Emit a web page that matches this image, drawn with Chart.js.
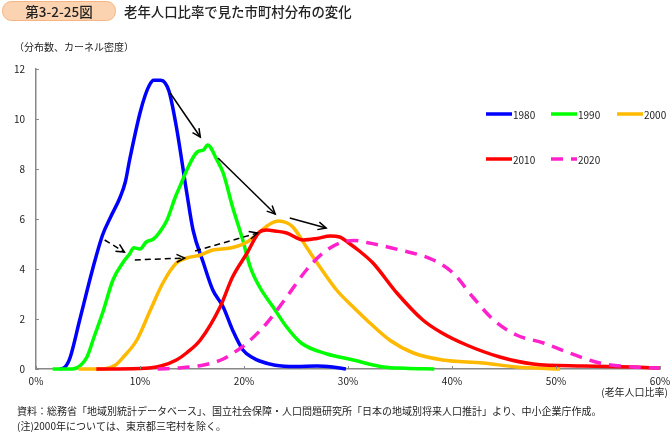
<!DOCTYPE html>
<html>
<head>
<meta charset="utf-8">
<script src="https://cdn.jsdelivr.net/npm/chart.js@4"></script>
<style>
  body { margin: 0; background: #fff; }
  #wrap { position: relative; width: 670px; height: 435px; }
</style>
</head>
<body>
<div id="wrap"><canvas id="chart" width="670" height="435"></canvas></div>
<script>
// 老年人口比率 (%) と カーネル密度
const years = ['1980', '1990', '2000', '2010', '2020'];
const colors = ['#0000ff', '#00ff00', '#ffb900', '#ff0000', '#ff22cc'];

const x1980 = [2.3, 2.8, 3.3, 4.2, 5.5, 6.4, 7.2, 8.1, 8.6, 9.0, 10.0, 10.5, 10.9, 11.3, 12.0, 12.4, 12.8, 13.5, 14.5, 15.1, 16.1, 17.0, 18.0, 18.9, 19.9, 20.9, 21.5, 23.0, 25.0, 27.0, 28.5, 29.8];
const y1980 = [0, 0.08, 0.48, 1.96, 4.08, 5.36, 6.1, 6.88, 7.5, 8.36, 10.24, 10.95, 11.35, 11.55, 11.55, 11.45, 11.1, 9.68, 7.04, 5.56, 4.24, 3.16, 2.48, 1.56, 0.76, 0.44, 0.32, 0.15, 0.1, 0.12, 0.08, 0];

const x1990 = [1.6, 3.5, 4.3, 4.9, 5.6, 6.4, 7.4, 8.4, 9.0, 9.4, 10.0, 10.6, 11.3, 11.9, 12.6, 13.4, 14.1, 14.5, 15.5, 16.1, 16.5, 17.4, 18.0, 18.9, 19.8, 20.6, 21.5, 22.8, 24.1, 25.5, 28.0, 30.3, 33.4, 35.5, 38.3];
const y1990 = [0, 0, 0.15, 0.48, 1.3, 2.24, 3.56, 4.28, 4.6, 4.85, 4.8, 5.08, 5.2, 5.48, 5.96, 6.88, 7.56, 7.96, 8.68, 8.76, 8.96, 8.36, 7.84, 6.48, 5.28, 4.08, 3.28, 2.48, 1.68, 1.04, 0.6, 0.38, 0.08, 0.03, 0];

const x2000 = [4.1, 6.5, 7.6, 8.4, 9.7, 11.0, 12.2, 13.5, 14.5, 15.8, 17.0, 18.7, 20.3, 21.5, 22.5, 23.3, 24.1, 24.7, 26.0, 27.3, 28.9, 30.5, 31.8, 34.0, 36.3, 39.1, 43.0, 46.2, 50.4];
const y2000 = [0, 0, 0.15, 0.48, 1.16, 2.36, 3.44, 4.24, 4.44, 4.56, 4.76, 4.84, 5.08, 5.48, 5.8, 5.92, 5.85, 5.68, 4.88, 4.08, 3.16, 2.48, 1.96, 1.16, 0.64, 0.36, 0.24, 0.08, 0];

const x2010 = [5.8, 10.0, 12.0, 13.5, 14.5, 15.8, 17.7, 18.9, 20.3, 21.5, 22.2, 23.0, 24.1, 25.7, 27.0, 28.3, 29.2, 30.2, 31.0, 32.4, 34.7, 37.2, 39.0, 41.4, 44.6, 47.8, 52.6, 57.4, 60];
const y2010 = [0, 0.02, 0.12, 0.36, 0.65, 1.16, 2.48, 3.68, 4.64, 5.48, 5.56, 5.52, 5.44, 5.16, 5.22, 5.32, 5.28, 5.0, 4.75, 4.24, 3.04, 1.96, 1.45, 0.96, 0.48, 0.2, 0.12, 0.08, 0.04];

const x2020 = [11.7, 14, 16, 17, 18, 19, 20.3, 22.2, 24.1, 26.0, 27.6, 29.2, 30.6, 31.8, 35.0, 38.2, 40.1, 42.0, 44.0, 46.2, 48.8, 51.3, 54.2, 57.4, 60];
const y2020 = [0, 0.05, 0.15, 0.25, 0.4, 0.65, 1.04, 1.84, 2.88, 3.96, 4.64, 5.04, 5.14, 5.06, 4.76, 4.36, 3.84, 2.88, 1.96, 1.36, 1.04, 0.64, 0.24, 0.08, 0.04];

const xTicks = [0, 10, 20, 30, 40, 50, 60];
const yTicks = [0, 2, 4, 6, 8, 10, 12];

// arrows: [x0, y0, x1, y1] in data units
const solidArrows = [[12.9, 11.04, 15.8, 9.28], [17.5, 8.44, 23.0, 6.2], [24.4, 6.04, 27.9, 5.64]];
const dashedArrows = [[6.6, 5.16, 8.5, 4.68], [9.5, 4.36, 14.3, 4.44], [15.3, 4.72, 21.3, 5.44]];

const xList = [x1980, x1990, x2000, x2010, x2020];
const yList = [y1980, y1990, y2000, y2010, y2020];

const font = '"Noto Sans CJK JP", "Noto Sans", sans-serif';

function toPoints(xs, ys) {
    return xs.map((x, i) => ({ x: x, y: ys[i] }));
}

function drawArrow(ctx, x0, y0, x1, y1, dashed) {
    ctx.save();
    ctx.strokeStyle = '#000';
    ctx.lineWidth = 1.5;
    ctx.setLineDash(dashed ? [6, 4] : []);
    ctx.beginPath();
    ctx.moveTo(x0, y0);
    ctx.lineTo(x1, y1);
    ctx.stroke();
    ctx.setLineDash([]);
    const a = Math.atan2(y1 - y0, x1 - x0);
    const len = 9;
    ctx.beginPath();
    ctx.moveTo(x1 - len * Math.cos(a - 0.45), y1 - len * Math.sin(a - 0.45));
    ctx.lineTo(x1, y1);
    ctx.lineTo(x1 - len * Math.cos(a + 0.45), y1 - len * Math.sin(a + 0.45));
    ctx.stroke();
    ctx.restore();
}

const extras = {
    id: 'extras',
    afterDatasetsDraw(chart) {
        const ctx = chart.ctx;
        const xs = chart.scales.x;
        const ys = chart.scales.y;
        const area = chart.chartArea;

        // inner tick marks
        ctx.save();
        ctx.strokeStyle = '#888';
        ctx.lineWidth = 1;
        yTicks.forEach(v => {
            const py = Math.round(ys.getPixelForValue(v)) + 0.5;
            ctx.beginPath();
            ctx.moveTo(area.left, py);
            ctx.lineTo(area.left + 3, py);
            ctx.stroke();
        });
        xTicks.forEach(v => {
            const px = Math.round(xs.getPixelForValue(v)) + 0.5;
            ctx.beginPath();
            ctx.moveTo(px, area.bottom);
            ctx.lineTo(px, area.bottom - 3);
            ctx.stroke();
        });
        ctx.restore();

        solidArrows.forEach(a => drawArrow(ctx, xs.getPixelForValue(a[0]), ys.getPixelForValue(a[1]), xs.getPixelForValue(a[2]), ys.getPixelForValue(a[3]), false));
        dashedArrows.forEach(a => drawArrow(ctx, xs.getPixelForValue(a[0]), ys.getPixelForValue(a[1]), xs.getPixelForValue(a[2]), ys.getPixelForValue(a[3]), true));

        // legend
        const legendPos = [[486, 114], [551, 114], [617, 114], [486, 159], [551, 159]];
        ctx.save();
        chart.data.datasets.forEach((ds, i) => {
            const [lx, ly] = legendPos[i];
            ctx.strokeStyle = ds.borderColor;
            ctx.lineWidth = 3.5;
            ctx.setLineDash(ds.borderDash || []);
            ctx.beginPath();
            ctx.moveTo(lx, ly);
            ctx.lineTo(lx + 26, ly);
            ctx.stroke();
            ctx.setLineDash([]);
            ctx.fillStyle = '#222';
            ctx.font = '10px ' + font;
            ctx.textBaseline = 'middle';
            ctx.textAlign = 'left';
            ctx.fillText(ds.label, lx + 27, ly + 1);
        });
        ctx.restore();

        // header, axis titles, notes
        ctx.save();
        ctx.fillStyle = '#fbd3b0';
        ctx.strokeStyle = '#f4b483';
        ctx.lineWidth = 1;
        ctx.beginPath();
        ctx.roundRect(2.5, 1.5, 113, 19, 9);
        ctx.fill();
        ctx.stroke();
        ctx.fillStyle = '#222';
        ctx.textBaseline = 'middle';
        ctx.textAlign = 'center';
        ctx.font = '500 13.5px ' + font;
        ctx.fillText('第3-2-25図', 59, 11.5);
        ctx.textAlign = 'left';
        ctx.font = '500 13.4px ' + font;
        ctx.fillText('老年人口比率で見た市町村分布の変化', 124, 11.5);

        ctx.font = '10px ' + font;
        ctx.fillText('（分布数、カーネル密度）', 14, 47);
        ctx.textAlign = 'right';
        ctx.fillText('(老年人口比率)', 668, 392);

        ctx.textAlign = 'left';
        ctx.font = '10px ' + font;
        ctx.fillText('資料：総務省「地域別統計データベース」、国立社会保障・人口問題研究所「日本の地域別将来人口推計」より、中小企業庁作成。', 17, 411);
        ctx.fillText('(注)2000年については、東京都三宅村を除く。', 17, 426);
        ctx.restore();
    }
};

const datasets = years.map((yr, i) => ({
    label: yr,
    data: toPoints(xList[i], yList[i]),
    borderColor: colors[i],
    borderWidth: 3.5,
    borderDash: yr === '2020' ? [12, 8] : [],
    pointRadius: 0,
    cubicInterpolationMode: 'monotone',
    fill: false,
    clip: false,
    order: years.length - i
}));

new Chart(
    document.getElementById('chart'),
    {
        type: 'line',
        data: { datasets: datasets },
        options: {
            responsive: false,
            animation: false,
            layout: {
                padding: { top: 69, right: 10, left: 0, bottom: 0 }
            },
            scales: {
                x: {
                    type: 'linear',
                    min: 0,
                    max: 60,
                    afterFit: (s) => { s.height = 66; s.paddingLeft = 0; s.paddingRight = 0; },
                    afterBuildTicks: (s) => { s.ticks = xTicks.map(v => ({ value: v })); },
                    grid: { display: false, drawTicks: false },
                    border: { color: '#888', width: 1.5 },
                    ticks: {
                        padding: 6,
                        color: '#222',
                        font: { family: font, size: 10 },
                        maxRotation: 0,
                        callback: (value) => value + '%'
                    }
                },
                y: {
                    type: 'linear',
                    min: 0,
                    max: 12,
                    afterFit: (s) => { s.width = 36; },
                    afterBuildTicks: (s) => { s.ticks = yTicks.map(v => ({ value: v })); },
                    grid: { display: false, drawTicks: false },
                    border: { color: '#888', width: 1.5 },
                    ticks: {
                        padding: 11,
                        color: '#222',
                        font: { family: font, size: 10 }
                    }
                }
            },
            plugins: {
                legend: { display: false },
                tooltip: { enabled: false }
            }
        },
        plugins: [extras]
    }
);
</script>
</body>
</html>
